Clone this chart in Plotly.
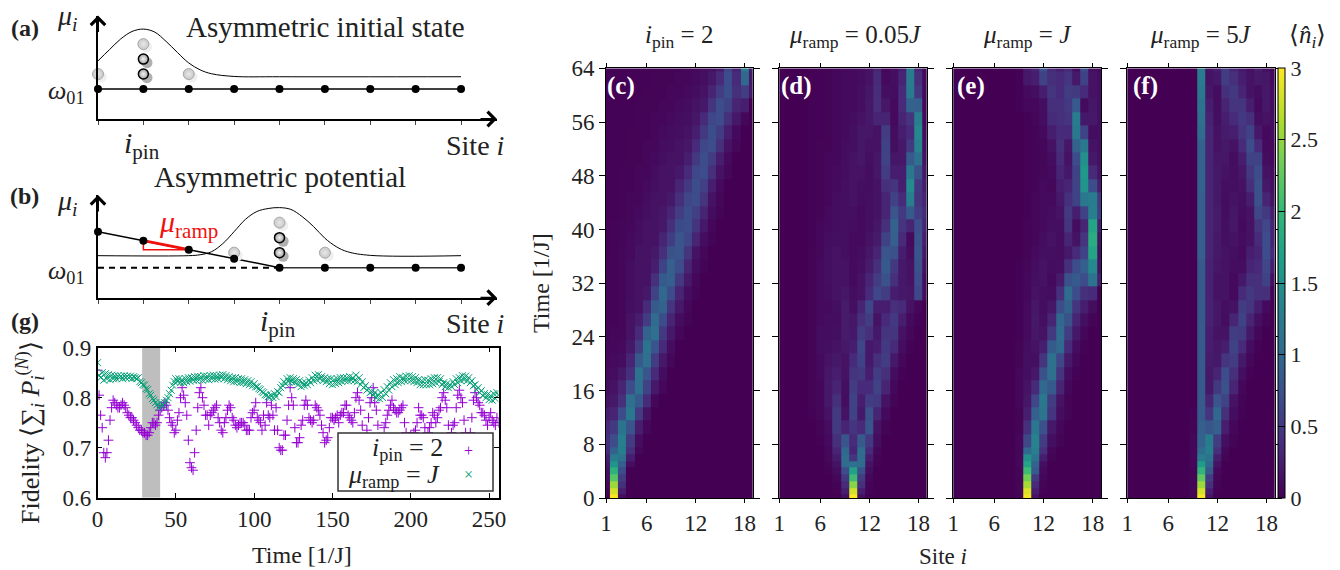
import plotly.graph_objects as go

W, H = 1340, 570
FONT = "Liberation Serif"
INK = "#222222"

# ---------- schematic data ----------
SITES = [1, 2, 3, 4, 5, 6, 7, 8, 9]
A_LEVEL = [0, 0, 0, 0, 0, 0, 0, 0, 0]
A_CURVE_X = [1, 1.25, 1.5, 1.75, 2, 2.25, 2.5, 2.75, 3, 3.25, 3.5, 4, 5, 9]
A_CURVE_Y = [.94, 1.31, 1.67, 1.92, 2.0, 1.9, 1.59, 1.22, .87, .64, .51, .42, .41, .41]
A_GREY_X = [1, 2, 3]
A_GREY_Y = [.5, 1.5, .5]
A_DARK_X = [2, 2]
A_DARK_Y = [.5, 1.0]

B_CURVE_X = [1, 3, 3.25, 3.5, 3.75, 4, 4.25, 4.5, 4.75, 5, 5.25, 5.5, 5.75, 6, 6.25, 6.5, 7, 9]
B_CURVE_Y = [.4, .4, .43, .53, .8, 1.2, 1.61, 1.87, 1.97, 2.0, 1.94, 1.7, 1.37, .98, .7, .53, .41, .4]
B_LEVEL = [1.2, .9, .6, .3, 0, 0, 0, 0, 0]
B_GREY_X = [4, 5, 6]
B_GREY_Y = [.5, 1.5, .5]
B_DARK_X = [5, 5]
B_DARK_Y = [.5, 1.0]
RAMP_X = [2, 2, 3, 2]
RAMP_Y = [.9, .6, .6, .9]

# ---------- fidelity data ----------
PIN = [.855,.805,.765,.74,.69,.68,.69,.715,.755,.78,.795,.79,.785,.78,.78,.785,.79,.785,.78,.77,
       .765,.76,.76,.755,.75,.745,.74,.735,.735,.73,.73,.725,.725,.73,.74,.75,.75,.745,.75,.765,
       .775,.78,.785,.79,.785,.775,.76,.75,.745,.73,.735,.755,.77,.80,.82,.805,.79,.765,.715,.67,
       .66,.655,.69,.735,.78,.81,.82,.80,.785,.765,.765,.745,.765,.77,.775,.78,.785,.76,.75,.735,
       .73,.75,.76,.775,.785,.78,.76,.755,.745,.74,.745,.75,.75,.75,.745,.735,.735,.735,.76,.77,
       .775,.79,.76,.755,.75,.735,.765,.745,.79,.765,.76,.785,.765,.735,.78,.735,.70,.695,.695,.725,
       .725,.755,.785,.82,.80,.785,.74,.71,.71,.72,.745,.755,.785,.795,.785,.76,.755,.75,.755,.785,
       .78,.775,.765,.745,.73,.71,.715,.72,.74,.76,.76,.755,.76,.765,.75,.765,.77,.77,.785,.785,
       .765,.76,.755,.75,.77,.80,.81,.795,.775,.745,.72,.71,.735,.76,.79,.80,.82,.79,.775,.745,
       .72,.70,.71,.74,.75,.765,.775,.785,.795,.78,.775,.77,.77,.775,.78,.785,.75,.73,.70,.72,
       .725,.72,.73,.735,.75,.78,.765,.765,.76,.74,.72,.73,.74,.75,.77,.765,.75,.76,.775,.78,
       .80,.81,.795,.78,.745,.72,.73,.745,.75,.78,.805,.815,.80,.79,.755,.73,.72,.70,.73,.76,
       .795,.81,.80,.79,.785,.77,.77,.765,.755,.745,.76,.77,.755,.75,.745,.76,.75]
RAMPJ = [.87,.845,.84,.85,.835,.848,.838,.846,.836,.845,.838,.844,.838,.844,.84,.843,.838,.844,.84,.843,
         .84,.843,.838,.842,.84,.838,.84,.832,.83,.826,.825,.818,.816,.808,.805,.798,.795,.79,.786,.78,
         .79,.783,.785,.79,.795,.80,.808,.815,.825,.832,.838,.832,.838,.83,.836,.83,.838,.832,.84,.833,
         .84,.835,.842,.835,.843,.836,.842,.835,.844,.837,.843,.836,.844,.838,.845,.837,.844,.838,.845,.84,
         .846,.838,.844,.836,.842,.834,.84,.832,.84,.832,.838,.83,.838,.83,.836,.828,.834,.826,.832,.824,
         .828,.822,.822,.818,.816,.812,.81,.806,.805,.802,.8,.805,.8,.808,.802,.812,.81,.82,.825,.832,
         .828,.838,.832,.84,.832,.838,.83,.836,.826,.834,.822,.83,.824,.83,.826,.835,.83,.84,.834,.845,
         .836,.846,.838,.842,.834,.84,.832,.838,.828,.838,.826,.836,.828,.838,.83,.84,.832,.84,.834,.84,
         .834,.842,.835,.84,.834,.845,.832,.84,.826,.832,.82,.824,.815,.818,.81,.812,.805,.81,.8,.806,
         .798,.81,.8,.816,.808,.822,.815,.83,.822,.836,.826,.838,.83,.842,.832,.84,.834,.843,.835,.844,
         .834,.842,.832,.84,.83,.836,.826,.834,.826,.836,.826,.835,.826,.838,.828,.84,.83,.84,.832,.838,
         .826,.83,.822,.828,.82,.826,.822,.832,.826,.838,.83,.84,.834,.844,.836,.843,.834,.84,.83,.834,
         .824,.826,.816,.82,.81,.814,.804,.808,.8,.806,.796,.804,.795,.808,.798,.81,.805]
SHADE_T = [28.5, 40]

# ---------- occupation maps (rows listed from Time 0 upward, values x 100) ----------
SITE_AXIS = list(range(1, 20))
TIME_EDGES = [0,.5,1.5,2.5,3.5,4.5,5.5,6.5,7.5,9.5,11.5,13.5,15.5,17.5,19.5,21.5,23.5,25.5,27.5,29.5,
              31.5,33.5,35.5,37.5,39.5,41.5,43.5,45.5,47.5,49.5,51.5,53.5,55.5,57.5,59.5,61.5,63.5,64]
C_FIRST = 1
C_ROWS = [
[0,300,10],[2,280,25],[5,255,40],[10,220,55],[12,190,70],[18,155,90,10],[25,125,115,25],[35,95,130,40,5],
[40,70,130,55,10],[35,50,115,80,25,5],[25,30,70,120,55,15],[15,20,40,110,85,35,5],[10,15,30,70,110,60,20,5],
[8,10,20,40,115,80,35,10],[5,8,10,30,85,110,55,20,5],[5,5,8,20,55,115,80,35,10],[3,5,5,15,35,95,110,50,20,5],
[3,3,5,15,25,55,105,70,30,10,3],[3,3,5,12,15,35,85,95,45,20,5],[3,3,5,10,15,20,60,100,70,30,10,3],
[3,3,5,10,15,15,40,85,90,50,20,5],[3,3,5,10,15,15,25,60,90,70,30,10,3],[2,3,5,8,15,15,20,40,75,80,45,15,5],
[2,3,4,8,12,15,15,30,55,80,65,30,10,3],[2,3,4,5,10,15,15,20,40,68,72,45,20,5],[2,2,3,5,8,12,15,18,30,55,72,58,30,10,3],
[2,2,3,5,5,10,15,15,20,40,65,70,45,15,5],[2,2,3,3,5,8,12,15,15,30,50,72,58,25,8],[2,2,3,3,5,5,10,15,15,20,35,65,70,40,15,5],
[2,2,2,3,3,5,8,12,15,15,25,50,72,55,25,8],[2,2,2,3,3,5,5,10,12,15,18,35,65,70,40,15,5],[2,2,2,3,3,3,5,8,10,12,15,25,50,72,55,25,8],
[2,2,2,2,3,3,5,5,8,10,12,18,35,65,70,40,20,5],[2,2,2,2,3,3,3,5,5,8,10,15,20,45,70,60,30,25],
[2,2,2,2,2,3,3,3,5,5,8,10,15,30,55,72,40,55,20],[2,2,2,2,2,2,3,3,3,5,5,8,12,20,35,70,35,100,20],
[2,2,2,2,2,2,2,3,3,3,5,5,10,12,20,62,28,125,25]]
D_FIRST = 5
D_ROWS = [
[0,0,0,0,12,300,12],[0,0,0,2,25,280,25,2],[0,0,0,3,35,245,40,3],[0,0,0,5,50,205,55,5],[0,0,2,10,70,170,75,10],
[0,0,3,15,105,110,105,15,2],[0,0,5,22,105,45,105,25,3],[0,0,5,30,100,30,105,35,5],[0,2,8,40,80,35,85,50,10],
[0,3,10,50,30,45,35,80,15,3],[2,5,15,50,15,60,20,75,30,8],[3,5,20,40,10,60,25,55,50,15,3],[3,5,20,30,12,55,35,35,60,30,5],
[3,8,18,25,15,45,50,25,55,40,10,2],[3,8,15,20,15,35,60,20,40,55,20,5],[3,10,12,15,20,25,65,20,25,50,35,10,2],
[3,10,10,12,22,20,55,40,20,45,45,15,5],[3,8,10,10,22,18,40,55,15,35,50,25,8,2],[3,8,8,12,22,12,30,65,25,25,40,35,15,5],
[3,8,10,15,18,10,15,35,65,55,25,20,18,65,10],[3,8,12,15,15,8,15,30,55,75,40,20,15,70,10],[3,8,12,15,15,8,12,22,40,85,50,20,15,75,15],
[3,5,12,15,12,8,10,18,30,80,75,25,10,80,20],[2,5,10,12,12,8,8,15,22,60,90,35,8,75,25],[2,5,8,10,12,10,8,12,18,40,95,45,30,70,30],
[2,3,8,10,12,12,8,12,15,30,80,50,85,55,35],[2,3,5,10,12,15,10,12,15,30,60,35,130,45,30],[2,3,5,8,12,15,12,10,15,40,45,25,145,50,25],
[2,3,5,8,10,15,15,10,18,55,25,25,120,75,20],[2,3,5,5,10,15,18,12,18,60,18,20,85,110,15],[2,3,3,5,10,12,18,15,15,60,12,20,50,135,12],
[2,2,3,5,8,12,18,18,15,55,10,25,35,140,10],[2,2,3,5,8,10,15,20,30,30,8,30,45,130,8],[2,2,3,5,8,8,12,20,38,18,8,35,95,90,8],
[2,2,3,5,8,8,12,18,38,12,10,35,125,50,8],[2,2,3,5,8,8,10,15,35,8,12,30,125,40,8],[2,2,3,5,8,8,10,15,30,5,12,25,125,30,8]]
E_FIRST = 9
E_ROWS = [
[3,295,15],[3,285,25,2],[3,260,35,3],[3,235,50,5],[3,205,85,8],[5,175,95,12],[5,150,115,25,3],[5,100,130,40,5],
[5,65,135,55,12,3],[3,40,120,75,20,5],[3,25,90,115,45,10,3],[5,18,65,120,55,15,3],[5,15,35,100,85,30,5],
[5,12,20,75,110,45,10,2],[3,12,12,45,110,65,20,5],[3,10,15,25,85,100,35,10,2],[2,8,18,15,50,105,55,20,5],
[2,8,20,12,30,100,75,30,12,3],[2,8,18,10,18,70,95,45,25,10],[2,5,15,12,10,40,105,70,40,35],[2,5,12,15,8,22,75,85,70,115,25],
[2,5,10,15,10,12,40,70,90,140,15],[0,3,8,12,12,10,20,35,60,175,12],[0,3,5,10,15,10,30,15,45,185,15],[0,3,5,8,12,12,45,10,30,175,25],
[0,2,5,8,10,15,50,25,60,130,55],[0,2,5,8,8,20,40,60,120,125,50],[0,2,3,8,5,25,30,60,155,70,25],[0,2,3,5,8,30,20,60,160,35,15],
[0,2,3,5,10,35,15,70,150,20,12],[0,2,3,5,15,40,18,95,120,15,12],[0,2,3,8,25,35,35,120,60,10,12],[0,2,5,10,35,40,45,125,20,20,12],
[2,5,5,12,40,40,50,85,8,18,12],[2,8,12,25,45,35,55,50,35,15,12],[2,20,25,60,40,35,45,20,60,15,10],[2,20,28,75,35,25,35,10,70,10,8]]
F_FIRST = 9
F_ROWS = [
[3,295,15],[3,280,25,2],[3,255,40,3],[3,225,55,5],[3,195,85,8],[5,165,100,15],[5,125,115,25,3],[5,105,130,40,5],
[5,95,125,55,12,3],[3,90,80,90,25,5],[2,85,45,100,40,10,2],[0,85,30,80,60,15,3],[0,85,20,50,75,30,5],[0,85,20,30,70,40,12,2],
[0,85,22,20,45,55,20,5],[0,85,25,18,25,60,35,10,2],[0,85,25,15,15,55,50,20,5],[0,85,28,18,10,30,60,30,12,3],[0,85,28,18,12,15,55,45,25,8],
[0,85,28,15,15,8,35,50,40,40,3],[0,85,28,15,15,8,20,40,40,60,12],[0,85,28,18,15,10,10,30,35,65,25],[0,90,30,20,15,12,8,25,30,70,35],
[0,90,30,20,12,15,10,15,35,70,30],[0,90,30,22,12,18,8,15,45,65,30],[0,90,30,22,10,18,10,15,65,50,25],[0,90,30,20,10,15,12,25,75,30,15],
[0,95,30,20,12,12,15,40,75,20,12],[0,95,30,20,15,12,18,50,70,15,10],[0,95,30,18,18,10,25,60,60,10,8],[0,95,30,15,20,15,35,70,35,8,8],
[0,105,30,15,22,25,45,60,20,8,12],[0,110,28,12,25,35,50,40,12,15,12],[0,115,25,10,30,45,45,25,8,20,10],[0,120,18,10,40,50,30,15,10,20,10],
[0,125,15,20,55,40,25,15,20,18,8],[0,125,15,25,55,30,20,12,25,12,5]]


def grid(rows, first):
    return [[v / 100 for v in [0] * (first - 1) + r + [0] * (19 - first + 1 - len(r))] for r in rows]


def fx(p):
    return p / W


def fy(p):
    return 1 - p / H


fig = go.Figure()


def schematic(xa, ya, curve_x, curve_y, level, grey_x, grey_y, dark_x, dark_y, solid_from, y_top):
    ax = dict(xaxis=xa, yaxis=ya, hoverinfo="skip", cliponaxis=False)
    fig.add_trace(go.Scatter(x=curve_x, y=curve_y, mode="lines", line=dict(color="black", width=1, shape="spline"), **ax))
    if solid_from > 1:
        fig.add_trace(go.Scatter(x=[1, solid_from], y=[0, 0], mode="lines", line=dict(color="black", width=2, dash="6px,5px"), **ax))
        fig.add_trace(go.Scatter(x=SITES[solid_from - 1:], y=level[solid_from - 1:], mode="lines", line=dict(color="#333", width=1.5), **ax))
        fig.add_trace(go.Scatter(x=SITES[:solid_from], y=level[:solid_from], mode="lines", line=dict(color="black", width=1.5), **ax))
        fig.add_trace(go.Scatter(x=RAMP_X, y=RAMP_Y, mode="lines", line=dict(color="#f01010", width=1.5), **ax))
        fig.add_trace(go.Scatter(x=RAMP_X[2:], y=RAMP_Y[2:], mode="lines", line=dict(color="#f01010", width=3), **ax))
    else:
        fig.add_trace(go.Scatter(x=SITES, y=level, mode="lines", line=dict(color="black", width=1.5), **ax))
    # shadows
    fig.add_trace(go.Scatter(x=[v + .07 for v in grey_x], y=[v - .1 for v in grey_y], mode="markers",
                             marker=dict(size=11, color="#efefef"), **ax))
    fig.add_trace(go.Scatter(x=[v + .08 for v in dark_x], y=[v - .12 for v in dark_y], mode="markers",
                             marker=dict(size=11, color="#b0b0b0"), **ax))
    fig.add_trace(go.Scatter(x=grey_x, y=grey_y, mode="markers",
                             marker=dict(size=11, color="#c8c8c8", line=dict(color="#a8a8a8", width=1),
                                         gradient=dict(type="radial", color="#e8e8e8")), **ax))
    fig.add_trace(go.Scatter(x=dark_x, y=dark_y, mode="markers",
                             marker=dict(size=10, color="#a0a0a0", line=dict(color="black", width=1.5),
                                         gradient=dict(type="radial", color="#f4f4f4")), **ax))
    fig.add_trace(go.Scatter(x=SITES, y=level, mode="markers", marker=dict(size=8, color="black"), **ax))
    # axis arrow heads
    fig.add_annotation(xref=xa, yref=ya, x=9.793, y=-1, ax=-18, ay=0, text="", showarrow=True, arrowhead=4,
                       arrowsize=1.4, arrowwidth=2, arrowcolor="black", standoff=0)
    fig.add_annotation(xref=xa, yref=ya, x=1, y=y_top, ax=0, ay=18, text="", showarrow=True, arrowhead=4,
                       arrowsize=1.4, arrowwidth=2, arrowcolor="black", standoff=0)


schematic("x", "y", A_CURVE_X, A_CURVE_Y, A_LEVEL, A_GREY_X, A_GREY_Y, A_DARK_X, A_DARK_Y, 1, 2.45)
schematic("x2", "y2", B_CURVE_X, B_CURVE_Y, B_LEVEL, B_GREY_X, B_GREY_Y, B_DARK_X, B_DARK_Y, 5, 2.42)

# fidelity
fig.add_trace(go.Scatter(x=list(range(len(PIN))), y=PIN, mode="markers", xaxis="x3", yaxis="y3", hoverinfo="skip",
                         marker=dict(symbol="cross-thin-open", size=7, line=dict(color="#9400d3", width=1), color="#9400d3")))
fig.add_trace(go.Scatter(x=list(range(len(RAMPJ))), y=RAMPJ, mode="markers", xaxis="x3", yaxis="y3", hoverinfo="skip",
                         marker=dict(symbol="x-thin-open", size=7, line=dict(color="#009e73", width=1), color="#009e73")))

# maps
for i, (rows, first) in enumerate([(C_ROWS, C_FIRST), (D_ROWS, D_FIRST), (E_ROWS, E_FIRST), (F_ROWS, F_FIRST)]):
    fig.add_trace(go.Heatmap(z=grid(rows, first), x=SITE_AXIS, y=TIME_EDGES, coloraxis="coloraxis",
                             xaxis=f"x{4 + i}", yaxis=f"y{4 + i}", hoverinfo="skip"))

TICK_FONT = dict(family=FONT, size=23, color=INK)
layout = dict(
    width=W, height=H, margin=dict(l=0, r=0, t=0, b=0, autoexpand=False), paper_bgcolor="white", plot_bgcolor="white",
    showlegend=False, font=dict(family=FONT, color=INK),
    coloraxis=dict(cmin=0, cmax=3, colorscale="Viridis", colorbar=dict(
        x=fx(1278.3), xanchor="left", y=fy(498), yanchor="bottom", len=430 / H, lenmode="fraction",
        thickness=7.4, thicknessmode="pixels", xpad=0, ypad=0, outlinewidth=1, outlinecolor="black",
        tickvals=[0, .5, 1, 1.5, 2, 2.5, 3], ticktext=["0", "0.5", "1", "1.5", "2", "2.5", "3"],
        ticks="inside", ticklen=7, tickcolor="black", tickwidth=1, tickfont=dict(family=FONT, size=22, color=INK))),
)
for n, top, bot, ytop in [("", 15.6, 119, 2.45), ("2", 195, 297.7, 2.42)]:
    layout["xaxis" + n] = dict(domain=[fx(98), fx(497)], range=[1, 9.793], anchor="y" + n, showgrid=False, zeroline=False,
                               showline=True, linecolor="black", linewidth=2, ticks="outside", ticklen=4, tickwidth=1,
                               tickcolor="#444", tickvals=SITES, showticklabels=False)
    layout["yaxis" + n] = dict(domain=[fy(bot), fy(top)], range=[-1, ytop], anchor="x" + n, showgrid=False, zeroline=False,
                               showline=True, linecolor="black", linewidth=2, ticks="", showticklabels=False)
layout["xaxis3"] = dict(domain=[fx(97.5), fx(498.5)], range=[0, 256], anchor="y3", showgrid=False, zeroline=False,
                        showline=True, mirror="ticks", linecolor="black", linewidth=1.5, ticks="inside", ticklen=5,
                        tickwidth=1, tickcolor="black", tickvals=[0, 50, 100, 150, 200, 250], tickfont=TICK_FONT)
layout["yaxis3"] = dict(domain=[fy(497.7), fy(347.7)], range=[.6, .9], anchor="x3", showgrid=False, zeroline=False,
                        showline=True, mirror="ticks", linecolor="black", linewidth=1.5, ticks="inside", ticklen=5,
                        tickwidth=1, tickcolor="black", tickvals=[.6, .7, .8, .9], tickformat=".1f", tickfont=TICK_FONT)
for k, (l, r) in enumerate([(606, 752.7), (779.3, 926.7), (953.3, 1101), (1127.3, 1274.7)]):
    n = str(4 + k)
    layout["xaxis" + n] = dict(domain=[fx(l), fx(r)], range=[1, 19], anchor="y" + n, showgrid=False, zeroline=False,
                               showline=True, mirror="ticks", linecolor="black", linewidth=1, ticks="outside", ticklen=4,
                               tickwidth=1, tickcolor="black", tickvals=[1, 6, 12, 18], tickfont=TICK_FONT)
    layout["yaxis" + n] = dict(domain=[fy(498), fy(68.3)], range=[0, 64], anchor="x" + n, showgrid=False, zeroline=False,
                               showline=True, mirror="ticks", linecolor="black", linewidth=1, ticks="outside", ticklen=6,
                               tickwidth=1, tickcolor="black", tickvals=[0, 8, 16, 24, 32, 40, 48, 56, 64],
                               showticklabels=(k == 0), tickfont=TICK_FONT)
fig.update_layout(**layout)

fig.add_shape(type="rect", xref="x3", yref="y3", x0=SHADE_T[0], x1=SHADE_T[1], y0=.6, y1=.9,
              fillcolor="#bebebe", line_width=0, layer="below")
fig.add_shape(type="rect", xref="paper", yref="paper", x0=fx(338), x1=fx(493), y0=fy(491), y1=fy(433),
              fillcolor="white", line=dict(color="#333", width=1.5), layer="above")


def note(px, py, text, size=22, color=INK, angle=0, anchor="center"):
    fig.add_annotation(xref="paper", yref="paper", x=fx(px), y=fy(py), text=text, showarrow=False,
                       font=dict(family=FONT, size=size, color=color), textangle=angle, xanchor=anchor, yanchor="middle")


MU_I = "<i>μ</i><sub><i>i</i></sub>"
W01 = "<i>ω</i><sub>01</sub>"
PINL = "<i>i</i><sub>pin</sub>"
SITEI = "Site <i>i</i>"
note(25, 28, "<b>(a)</b>", 24)
note(67, 18, MU_I, 28)
note(325, 27, "Asymmetric initial state", 29)
note(66, 92, W01, 26)
note(142, 145, PINL, 30)
note(475, 145, SITEI, 28)
note(25, 196, "<b>(b)</b>", 24)
note(67, 202, MU_I, 28)
note(280, 177, "Asymmetric potential", 29)
note(188, 224, "<i>μ</i><sub>ramp</sub>", 30, "#f01010")
note(66, 272, W01, 26)
note(278, 323, PINL, 30)
note(475, 323, SITEI, 28)
note(25, 321, "<b>(g)</b>", 24)
note(30, 433, "Fidelity ⟨∑<sub><i>i</i></sub> <i>P</i><sub><i>i</i></sub><sup>(<i>N</i>)</sup>⟩", 26, angle=-90)
note(302, 555, "Time [1/J]", 24)
note(407, 449, "<i>i</i><sub>pin</sub> = 2", 26)
note(394, 476, "<i>μ</i><sub>ramp</sub> = <i>J</i>", 26)
note(468, 450, "+", 16, "#9400d3")
note(468, 474, "×", 16, "#009e73")
note(679, 37, "<i>i</i><sub>pin</sub> = 2", 25)
note(855, 37, "<i>μ</i><sub>ramp</sub> = 0.05<i>J</i>", 25)
note(1027, 37, "<i>μ</i><sub>ramp</sub> = <i>J</i>", 25)
note(1201, 37, "<i>μ</i><sub>ramp</sub> = 5<i>J</i>", 25)
note(1307, 37, "⟨<i>n̂</i><sub><i>i</i></sub>⟩", 25)
note(541, 283, "Time [1/J]", 24, angle=-90)
note(943, 556, SITEI, 23)
for px, s in [(621, "(c)"), (796, "(d)"), (971, "(e)"), (1145, "(f)")]:
    note(px, 86, f"<b>{s}</b>", 25, "white")

fig.write_html("out.html", config={"displayModeBar": False},
               post_script="document.body.style.margin='0';document.body.style.overflow='hidden';")
